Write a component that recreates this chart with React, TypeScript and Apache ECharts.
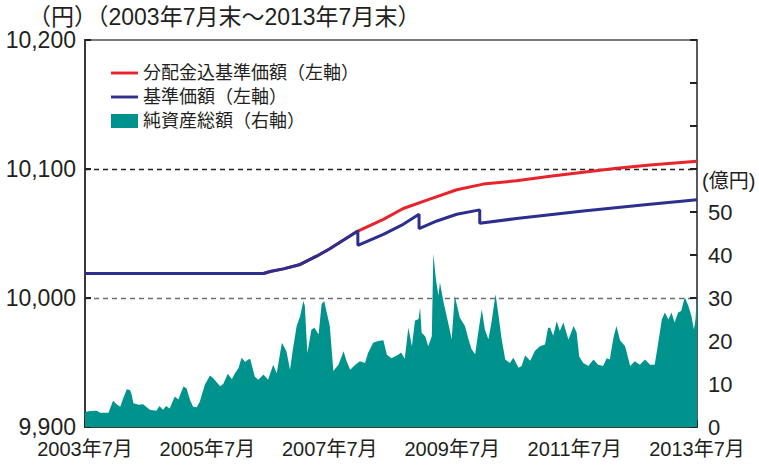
import React, { useEffect, useRef } from "react";
import * as echarts from "echarts";

// Month offsets from 2003年7月末 (0) to 2013年7月末 (120)
const xTicks = [0, 24, 48, 72, 96, 120];

// 分配金込基準価額（左軸）
const totalMonths = [0, 35, 36.3, 38.9, 42.2, 45.4, 48, 50.7, 53.5, 58.5, 62.4, 67.6, 72.9, 78.1, 84.6, 91.2, 97.7, 104.3, 110.8, 120];
const totalValues = [10019, 10019, 10020.5, 10022.6, 10026, 10032.4, 10038.2, 10044.9, 10051.9, 10061, 10069.4, 10076.6, 10083.9, 10088.3, 10090.9, 10094.3, 10097.4, 10100.5, 10103.1, 10106];

// 基準価額（左軸）
const navMonths = [0, 35, 36.3, 38.9, 42.2, 45.4, 48, 50.7, 53.5, 53.5, 58.5, 62.4, 65.5, 65.5, 69, 72.9, 77.4, 77.4, 84.6, 97.7, 110.8, 120];
const navValues = [10019, 10019, 10020.5, 10022.6, 10026, 10032.4, 10038.2, 10044.9, 10051.9, 10040.8, 10049.3, 10057.1, 10064.9, 10053.8, 10059.7, 10064.9, 10068.3, 10057.9, 10061.6, 10067.5, 10072.7, 10076.1];

// 純資産総額（右軸、億円）
const aumMonths = [
  0, 1, 2.3, 3, 4.6, 5.5, 6.2, 6.9, 7.5, 8.2, 8.8, 9.1, 9.5, 10.5, 11.4, 12.7, 14, 14.6, 15.3, 15.9,
  16.6, 17.6, 18.3, 19.3, 19.9, 20.6, 21.2, 21.9, 22.5, 23.5, 24.5, 25.1, 26.5, 27.1, 28, 28.8, 29.4, 30.1, 30.7, 31.4,
  32, 32.4, 33.3, 34, 35, 35.9, 36.9, 37.6, 38.6, 39.5, 40.2, 40.8, 41.5, 42.2, 42.8, 43.1, 43.6, 44.4, 45, 45.8,
  46.4, 46.9, 47.4, 48, 48.7, 49.7, 50.7, 51.3, 52, 53, 53.9, 54.9, 55.5, 56.5, 57.5, 58.5, 59.2, 60.1, 61.4, 62,
  62.7, 63.4, 64.1, 64.7, 65.4, 65.7, 66, 66.7, 67.3, 68, 68.3, 68.8, 69.3, 69.6, 70.3, 71.2, 71.9, 72.5, 73.5, 74.5,
  75.2, 75.8, 76.5, 77.1, 77.8, 78.4, 79.1, 79.7, 80.5, 81.1, 81.7, 82.4, 83.3, 84, 85, 85.6, 86.3, 87.3, 88.2, 89.2,
  90.2, 90.8, 91.2, 91.8, 92.5, 93.1, 93.8, 94.8, 95.8, 96.4, 96.9, 97.7, 98.7, 99.7, 100.6, 101.6, 102.3, 102.9, 103.6, 104.2,
  104.9, 105.9, 106.9, 107.8, 108.8, 109.8, 110.8, 111.7, 112.4, 113.1, 113.7, 114.4, 115, 115.6, 116.3, 116.9, 117.6, 118.3, 118.9, 119.4,
  119.7, 120,
];
const aumValues = [
  3.5, 3.7, 3.8, 3.3, 3.3, 6.1, 5.3, 4.7, 6.7, 8.8, 8.6, 7.8, 5.5, 5.2, 5.3, 4.0, 3.8, 4.9, 4.0, 4.9,
  4.3, 7.1, 6.4, 9.4, 9.0, 6.3, 4.7, 4.6, 5.9, 9.8, 12.0, 11.4, 9.5, 10.0, 12.4, 11.1, 12.5, 13.7, 16.1, 15.1,
  15.7, 15.8, 11.7, 11.0, 12.2, 11.0, 14.5, 12.5, 19.6, 17.6, 13.3, 18.4, 23.5, 25.8, 29.3, 28.2, 17.2, 22.7, 23.1, 21.5,
  28.6, 29.3, 26.6, 23.5, 13.0, 14.5, 17.6, 15.3, 13.3, 14.5, 15.3, 14.9, 17.2, 19.6, 20.0, 20.2, 16.8, 16.0, 16.8, 17.3,
  15.9, 23.1, 18.8, 24.7, 25.1, 27.8, 21.9, 21.1, 18.8, 21.1, 40.3, 34.4, 30.5, 33.6, 29.0, 24.3, 20.4, 30.5, 25.4, 23.5,
  20.4, 18.1, 16.9, 21.9, 27.4, 22.7, 20.4, 24.3, 30.9, 25.8, 20.4, 15.7, 14.9, 16.1, 13.8, 14.2, 16.6, 15.4, 17.7, 18.8,
  19.2, 23.1, 23.1, 21.2, 24.6, 22.3, 24.3, 20.3, 23.5, 22.0, 16.4, 14.9, 14.2, 15.7, 14.5, 14.2, 16.0, 15.7, 20.7, 23.5,
  20.2, 18.8, 14.2, 15.3, 14.5, 15.7, 14.5, 14.5, 19.6, 25.0, 26.6, 25.0, 26.6, 24.3, 26.6, 27.0, 30.2, 28.2, 25.8, 22.7,
  25.0, 31.0,
];

const leftTicks = [9900, 10000, 10100, 10200];
const rightLabelMax = 50;

const NAMES = ["分配金込基準価額（左軸）", "基準価額（左軸）", "純資産総額（右軸）"];
const RED = "#e8232c";
const BLUE = "#2c2f8e";
const TEAL = "#00938d";
const TXT = "#231f20";
const FONT = "'Liberation Sans', 'Noto Sans CJK JP', sans-serif";

function monthLabel(v: number) {
  const total = 2003 * 12 + 6 + Math.round(v);
  const y = Math.floor(total / 12);
  const m = (total % 12) + 1;
  return `${y}年${m}月`;
}

function pairs(xs: number[], ys: number[]) {
  return xs.map((x, i) => [x, ys[i]]);
}

export default function App() {
  const ref = useRef<HTMLDivElement>(null);
  useEffect(() => {
    if (!ref.current) return;
    const chart = echarts.init(ref.current, undefined, { renderer: "svg" });
    chart.setOption({
      animation: false,
      textStyle: { fontFamily: FONT, color: TXT },
      title: {
        text: "（円）（2003年7月末～2013年7月末）",
        left: 28,
        top: 5,
        padding: 0,
        textStyle: { fontSize: 23, fontWeight: "normal", color: TXT, fontFamily: FONT },
      },
      legend: {
        left: 111,
        top: 64,
        orient: "vertical",
        itemWidth: 27,
        itemHeight: 14,
        itemGap: 6,
        padding: 0,
        selectedMode: false,
        itemStyle: { borderWidth: 0 },
        textStyle: { fontSize: 18, color: TXT, fontFamily: FONT },
        data: [
          { name: NAMES[0], icon: "path://M0,0H28V3H0Z" },
          { name: NAMES[1], icon: "path://M0,0H28V3H0Z" },
          { name: NAMES[2], icon: "rect" },
        ],
      },
      grid: {
        left: 85,
        right: 62,
        top: 40,
        bottom: 42,
        show: true,
        borderColor: "#7a7a7a",
        borderWidth: 2,
        backgroundColor: "transparent",
      },
      xAxis: {
        type: "value",
        min: xTicks[0],
        max: xTicks[xTicks.length - 1],
        interval: 24,
        axisLine: { show: true, lineStyle: { color: "#3a3a3a", width: 2 } },
        axisTick: { show: true, inside: true, length: 7, lineStyle: { color: "#222", width: 2 } },
        splitLine: { show: false },
        axisLabel: { fontSize: 20, color: TXT, margin: 12, fontFamily: FONT, formatter: (v: number) => monthLabel(v) },
      },
      yAxis: [
        {
          type: "value",
          min: leftTicks[0],
          max: leftTicks[leftTicks.length - 1],
          interval: 100,
          axisLine: { show: true, lineStyle: { color: "#3a3a3a", width: 2 } },
          axisTick: { show: true, inside: true, length: 6, lineStyle: { color: "#222", width: 2 } },
          axisLabel: {
            fontSize: 23,
            color: TXT,
            margin: 9,
            fontFamily: FONT,
            formatter: (v: number) => v.toLocaleString("en-US"),
          },
          splitLine: {
            show: true,
            lineStyle: {
              type: [5, 4],
              width: 1.3,
              color: ["rgba(0,0,0,0)", "#6e6e6e", "#222", "rgba(0,0,0,0)"],
            },
          },
        },
        {
          type: "value",
          min: 0,
          max: 90,
          interval: 10,
          position: "right",
          axisLine: { show: true, lineStyle: { color: "#5a5a5a", width: 2 } },
          axisTick: { show: true, inside: true, length: 7, lineStyle: { color: "#222", width: 2 } },
          axisLabel: {
            fontSize: 22,
            color: TXT,
            margin: 11,
            fontFamily: FONT,
            formatter: (v: number) => (v <= rightLabelMax ? String(v) : ""),
          },
          splitLine: { show: false },
        },
      ],
      graphic: [
        {
          type: "text",
          left: 702,
          top: 171,
          style: { text: "(億円)", fontSize: 20, fill: TXT, fontFamily: FONT },
        },
      ],
      series: [
        {
          name: NAMES[2],
          type: "line",
          yAxisIndex: 1,
          symbol: "none",
          data: pairs(aumMonths, aumValues),
          lineStyle: { width: 0, color: TEAL },
          itemStyle: { color: TEAL },
          areaStyle: { color: TEAL, opacity: 1 },
          z: 1,
        },
        {
          name: NAMES[0],
          type: "line",
          yAxisIndex: 0,
          symbol: "none",
          data: pairs(totalMonths, totalValues),
          lineStyle: { width: 3, color: RED },
          itemStyle: { color: RED },
          z: 3,
        },
        {
          name: NAMES[1],
          type: "line",
          yAxisIndex: 0,
          symbol: "none",
          data: pairs(navMonths, navValues),
          lineStyle: { width: 3, color: BLUE },
          itemStyle: { color: BLUE },
          z: 4,
        },
      ],
    });
    return () => chart.dispose();
  }, []);
  return (
    <div
      ref={ref}
      style={{ position: "absolute", left: 0, top: 0, width: 759, height: 469, background: "#fff" }}
    />
  );
}
